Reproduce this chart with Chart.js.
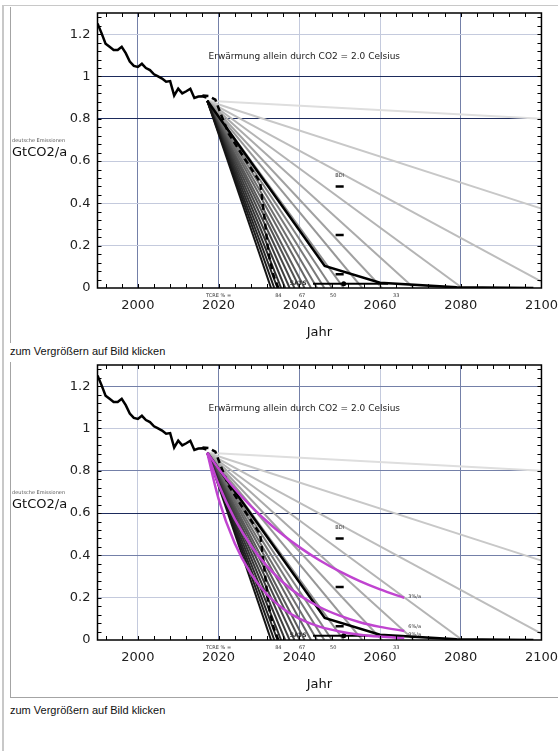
<!DOCTYPE html>
<html>
<head>
<meta charset="utf-8">
<script src="https://cdn.jsdelivr.net/npm/chart.js@4/dist/chart.umd.min.js"></script>
<style>
body { margin: 0; background: #fff; font-family: "Liberation Sans", Arial, sans-serif; }
.page { position: relative; width: 558px; height: 751px; overflow: hidden; }
.outer { position: absolute; left: 2px; top: 5px; width: 600px; height: 760px; border-left: 2px solid #c8c8c8; border-top: 1px solid #c8c8c8; }
.box { position: absolute; left: 10px; width: 600px; border-left: 1px solid #a4a4a4; }
#box1 { top: 7px; height: 336px; }
#box2 { top: 362px; height: 335px; border-bottom: 1px solid #a4a4a4; }
canvas { position: absolute; left: 11px; }
#c1 { top: 4px; }
#c2 { top: 356px; }
.cap { position: absolute; left: 10px; font-size: 11px; color: #111; white-space: nowrap; }
</style>
</head>
<body>
<div class="page">
  <div class="outer"></div>
  <div class="box" id="box1"></div>
  <div class="box" id="box2"></div>
  <canvas id="c1" width="547" height="340"></canvas>
  <div class="cap" style="top:345px">zum Vergrößern auf Bild klicken</div>
  <canvas id="c2" width="547" height="340"></canvas>
  <div class="cap" style="top:704px">zum Vergrößern auf Bild klicken</div>
</div>
<script>
// historische Emissionen (GtCO2/a)
const histYears = [1990, 1991, 1992, 1993, 1994, 1995, 1996, 1997, 1998, 1999, 2000, 2001, 2002, 2003,
                   2004, 2005, 2006, 2007, 2008, 2009, 2010, 2011, 2012, 2013, 2014, 2015, 2016, 2017];
const histValues = [1.25, 1.205, 1.155, 1.14, 1.125, 1.125, 1.14, 1.11, 1.07, 1.05, 1.045, 1.06, 1.04, 1.03,
                    1.01, 1.0, 0.99, 0.975, 0.978, 0.91, 0.942, 0.92, 0.93, 0.942, 0.898, 0.905, 0.906, 0.9];

// gestrichelter Pfad
const dashYears = [2016, 2017.5, 2019.2, 2020.8, 2022.5, 2026.5, 2030.3, 2031.2, 2032.4, 2033.6, 2034.8];
const dashValues = [0.91, 0.908, 0.89, 0.81, 0.73, 0.61, 0.5, 0.36, 0.16, 0.06, 0];

// Faecher linearer Pfade
const fanStartYear = 2017.2;
const fanStartValue = 0.885;
const fanEndYears = [2033, 2033.8, 2034.6, 2035.5, 2036.5, 2037.6, 2038.8, 2040.1, 2041.3, 2042.9, 2044.4,
                     2046.2, 2048.1, 2051, 2055.6, 2060.5, 2068.4, 2080.4, 2100, 2100, 2100];
const fanEndValues = [0, 0, 0, 0, 0, 0, 0, 0, 0, 0, 0, 0, 0, 0, 0, 0, 0, 0, 0.03, 0.375, 0.8];

// schwarzer Knickpfad
const pathYears = [2017.2, 2046.3, 2060, 2079, 2098];
const pathValues = [0.885, 0.104, 0.025, 0.003, 0];

// SATS-Linie
const satsYears = [2043.4, 2062];
const satsValue = 0.02;
const satsDotYear = 2051;

// kurze Markierungen
const markYears = [2049, 2051];
const markValues = [0.48, 0.25, 0.065];

// exponentielle Pfade (3, 6, 9 %/a)
const expYears = [2017.2, 2020, 2024, 2028, 2032, 2036, 2040, 2045, 2050, 2055, 2060, 2066];
const exp3 = [0.885, 0.81, 0.715, 0.633, 0.56, 0.496, 0.439, 0.377, 0.324, 0.278, 0.239, 0.199];
const exp6 = [0.885, 0.735, 0.572, 0.447, 0.349, 0.272, 0.212, 0.156, 0.115, 0.084, 0.062, 0.043];
const exp9 = [0.885, 0.667, 0.457, 0.314, 0.215, 0.148, 0.101, 0.063, 0.04, 0.025, 0.016, 0.009];
const expLabels = ['3%/a', '6%/a', '9%/a'];
const expLabelValues = [0.207, 0.061, 0.027];

// Achsen
const xTicks = [2000, 2020, 2040, 2060, 2080, 2100];
const yTicks = [0, 0.2, 0.4, 0.6, 0.8, 1, 1.2];
const tcreYears = [2020, 2034.8, 2040.7, 2048.4, 2064];
const tcreLabels = ['TCRE % =', '84', '67', '50', '33'];

const fanColors = ['#141414', '#1c1c1c', '#242424', '#2c2c2c', '#353535', '#3e3e3e', '#474747', '#515151',
                   '#5b5b5b', '#656565', '#6f6f6f', '#797979', '#838383', '#8d8d8d', '#979797', '#a1a1a1',
                   '#ababab', '#b4b4b4', '#bdbdbd', '#c8c8c8', '#dedede'];
const magenta = '#c044d0';
const DARK = '#1d2b5c', MID = '#7480a8', LIGHT = '#c4cadd';
const NONE = 'rgba(0,0,0,0)';

Chart.defaults.font.family = '"DejaVu Sans", sans-serif';

function xy(xs, ys) {
    return xs.map((v, i) => ({ x: v, y: ys[i] }));
}

function line(data, color, width, extra) {
    return Object.assign({
        type: "line", data: data, borderColor: color, backgroundColor: color,
        borderWidth: width, pointRadius: 0, fill: false, tension: 0
    }, extra || {});
}

const annot = {
    id: "annot",
    afterDraw(chart, args, opts) {
        const { ctx, chartArea: a, scales: { x, y } } = chart;
        ctx.save();
        // Rahmen
        ctx.strokeStyle = "#000";
        ctx.lineWidth = 1.5;
        ctx.strokeRect(a.left, a.top, a.right - a.left, a.bottom - a.top);
        // kleine Striche
        ctx.lineWidth = 1;
        ctx.beginPath();
        for (let yr = 1992; yr < 2100; yr += 4) {
            const px = Math.round(x.getPixelForValue(yr)) + 0.5;
            ctx.moveTo(px, a.top); ctx.lineTo(px, a.top + 4);
            ctx.moveTo(px, a.bottom); ctx.lineTo(px, a.bottom - 4);
        }
        for (let k = 1; k < 33; k++) {
            const py = Math.round(y.getPixelForValue(k * 0.04)) + 0.5;
            ctx.moveTo(a.left, py); ctx.lineTo(a.left + 4, py);
            ctx.moveTo(a.right, py); ctx.lineTo(a.right - 4, py);
        }
        ctx.stroke();

        ctx.fillStyle = "#222";
        ctx.textBaseline = "middle";
        ctx.textAlign = "left";
        ctx.font = '9px "DejaVu Sans"';
        ctx.fillText("Erwärmung allein durch CO2 = 2.0 Celsius", x.getPixelForValue(2017.5), y.getPixelForValue(1.095));

        ctx.font = '5px "DejaVu Sans"';
        ctx.fillStyle = "#555";
        ctx.fillText("deutsche Emissionen", 1, y.getPixelForValue(0.698));
        ctx.fillStyle = "#111";
        ctx.font = '13px "DejaVu Sans"';
        ctx.fillText("GtCO2/a", 1, y.getPixelForValue(0.642));

        ctx.font = '5px "DejaVu Sans"';
        ctx.fillStyle = "#333";
        ctx.textAlign = "center";
        ctx.fillText("BDI", x.getPixelForValue(2050), y.getPixelForValue(0.53));
        tcreYears.forEach((yr, i) => {
            ctx.fillText(tcreLabels[i], x.getPixelForValue(yr), a.bottom + 8);
        });
        ctx.font = 'bold 6px "DejaVu Sans"';
        ctx.textAlign = "right";
        ctx.fillText("SATS", x.getPixelForValue(2041.8), y.getPixelForValue(0.022));

        if (opts.exp) {
            ctx.font = '5px "DejaVu Sans"';
            ctx.textAlign = "left";
            expLabels.forEach((t, i) => {
                ctx.fillText(t, x.getPixelForValue(2067), y.getPixelForValue(expLabelValues[i]));
            });
        }
        ctx.restore();
    }
};

function makeChart(id, withExp, gridX, gridY) {
    const datasets = [];
    if (withExp) {
        [exp3, exp6, exp9].forEach(vals => {
            datasets.push(line(xy(expYears, vals), magenta, 2.5, { cubicInterpolationMode: "monotone" }));
        });
    }
    datasets.push(line(xy(dashYears, dashValues), "#000", 2.5, { borderDash: [6, 4] }));
    datasets.push(line(xy(pathYears, pathValues), "#000", 2.5));
    datasets.push(line(xy(satsYears, [satsValue, satsValue]), "#000", 2));
    datasets.push(line([{ x: satsDotYear, y: satsValue }], "#000", 0, { pointRadius: 2.5, showLine: false }));
    const marks = [];
    markValues.forEach(v => {
        marks.push({ x: markYears[0], y: v }, { x: markYears[1], y: v }, { x: markYears[1], y: null });
    });
    datasets.push(line(marks, "#000", 2.5, { spanGaps: false }));
    datasets.push(line(xy(histYears, histValues), "#000", 2.5));
    fanEndYears.forEach((yr, i) => {
        datasets.push(line([{ x: fanStartYear, y: fanStartValue }, { x: yr, y: fanEndValues[i] }], fanColors[i], 2));
    });

    return new Chart(document.getElementById(id), {
        type: "line",
        data: { datasets: datasets },
        options: {
            responsive: false,
            animation: false,
            devicePixelRatio: 1,
            layout: { padding: { top: 9, right: 6, left: 0, bottom: 0 } },
            plugins: { legend: { display: false }, tooltip: { enabled: false }, annot: { exp: withExp } },
            scales: {
                x: {
                    type: "linear", min: 1990, max: 2100,
                    afterBuildTicks: s => { s.ticks = xTicks.map(v => ({ value: v })); },
                    afterFit: s => { s.height = 56; },
                    grid: { color: c => gridX[c.tick.value] || NONE, drawTicks: true, tickLength: 10, tickColor: NONE },
                    border: { display: false },
                    ticks: { padding: 0, color: "#222", font: { size: 13 }, maxRotation: 0, callback: v => String(v) },
                    title: { display: true, text: "Jahr", color: "#111", font: { size: 13 }, padding: { top: 0, bottom: 4 } }
                },
                y: {
                    type: "linear", min: 0, max: 1.3,
                    afterBuildTicks: s => { s.ticks = yTicks.map(v => ({ value: v })); },
                    afterFit: s => { s.width = 86.5; },
                    grid: { color: c => gridY[c.tick.value] || NONE, drawTicks: true, tickLength: 7, tickColor: NONE },
                    border: { display: false },
                    ticks: { padding: 0, color: "#222", font: { size: 13 }, callback: v => String(v) }
                }
            }
        },
        plugins: [annot]
    });
}

makeChart("c1", false,
    { 2000: MID, 2020: MID, 2040: LIGHT, 2060: LIGHT, 2080: MID },
    { 0.2: LIGHT, 0.4: LIGHT, 0.6: LIGHT, 0.8: DARK, 1: DARK, 1.2: LIGHT });
makeChart("c2", true,
    { 2000: LIGHT, 2020: MID, 2040: MID, 2060: LIGHT, 2080: MID },
    { 0.2: LIGHT, 0.4: MID, 0.6: DARK, 0.8: MID, 1: LIGHT, 1.2: MID });
</script>
</body>
</html>
